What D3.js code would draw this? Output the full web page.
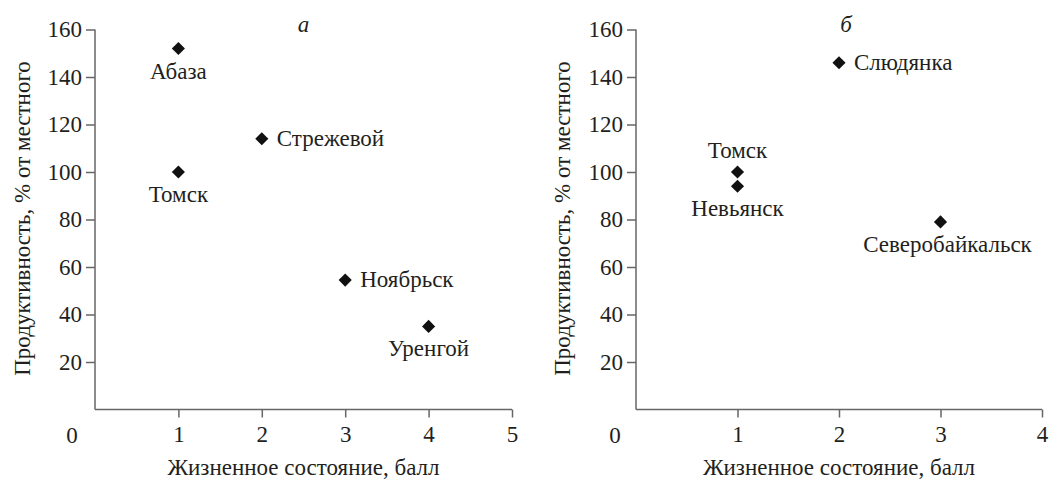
<!DOCTYPE html>
<html><head><meta charset="utf-8">
<script src="https://cdn.jsdelivr.net/npm/d3@7"></script>
</head>
<body style="margin:0;background:#fff">
<svg id="c" width="1049" height="483" style="font-family:'Liberation Serif','Times New Roman',serif"></svg>
<script>
// Panel a
const namesA = ["Абаза","Стрежевой","Томск","Ноябрьск","Уренгой"];
const xA = [1,2,1,3,4];
const yA = [152,114,100,54.5,35];
const posA = ["below","right","below","right","below"];
const xTicksA = [1,2,3,4,5];
// Panel б
const namesB = ["Слюдянка","Томск","Невьянск","Северобайкальск"];
const xB = [2,1,1,3];
const yB = [146,100,94,79];
const posB = ["right","above","below","below"];
const xTicksB = [1,2,3,4];
const yTicks = [20,40,60,80,100,120,140,160];
const titles = ["a","б"];
const xTitle = "Жизненное состояние, балл";
const yTitle = "Продуктивность, % от местного";

const svg = d3.select("#c");
const FS = 23;
const FF = '"Liberation Serif"';
const FFS = "'Liberation Serif','Times New Roman',serif";
const TC = "#231f20";

function styleText(sel){
  return sel.attr("font-family",FF).attr("font-size",FS).attr("fill",TC)
    .style("font-family",FFS).style("font-size",FS+"px");
}
function txt(g){ return styleText(g.append("text")); }

function panel(cfg){
  const g = svg.append("g");
  const x = d3.scaleLinear().domain([0,cfg.xmax]).range([cfg.x0,cfg.x1]);
  const y = d3.scaleLinear().domain([0,160]).range([409.5,29.5]);
  const xa = g.append("g").attr("transform",`translate(0,${y(0)})`)
    .call(d3.axisBottom(x).tickValues(cfg.xticks).tickSize(8).tickPadding(8).tickSizeOuter(0).tickFormat(d3.format("d")));
  const ya = g.append("g").attr("transform",`translate(${x(0)},0)`)
    .call(d3.axisLeft(y).tickValues(yTicks).tickSize(9).tickPadding(4).tickSizeOuter(0));
  [xa,ya].forEach(a=>{
    a.attr("font-family",null).attr("font-size",null).style("font-family",FFS);
    a.select(".domain").attr("stroke","#666").attr("stroke-width",1.5);
    a.selectAll(".tick line").attr("stroke","#666").attr("stroke-width",1.5);
    styleText(a.selectAll(".tick text"));
  });
  ya.select(".domain").attr("d",`M0,${y(160)}V${y(0)}`);
  xa.select(".domain").attr("d",`M${x(0)},0H${x(cfg.xmax)}`);
  // origin label
  txt(g).attr("x",x(0)-cfg.zeroDx).attr("y",y(0)+33).attr("text-anchor","middle").text("0");
  // titles
  txt(g).attr("x",(cfg.x0+cfg.x1)/2+cfg.titleDx).attr("y",32).attr("text-anchor","middle")
    .attr("font-style","italic").style("font-style","italic").text(cfg.title);
  txt(g).attr("x",(cfg.x0+cfg.x1)/2).attr("y",475).attr("text-anchor","middle").text(xTitle);
  txt(g).attr("transform",`translate(${cfg.ylx},${(29.5+409.5)/2 - 1}) rotate(-90)`)
    .attr("text-anchor","middle").text(yTitle);
  // points
  const data = cfg.names.map((n,i)=>({n,x:cfg.xs[i],y:cfg.ys[i],p:cfg.pos[i]}));
  g.selectAll("path.pt").data(data).join("path").attr("class","pt")
    .attr("d",d3.symbol(d3.symbolDiamond2,110))
    .attr("transform",d=>`translate(${x(d.x)},${y(d.y)})`).attr("fill","#111");
  styleText(g.selectAll("text.lbl").data(data).join("text").attr("class","lbl"))
    .attr("text-anchor",d=>d.p==="right"?"start":"middle")
    .attr("x",d=>x(d.x)+(d.p==="right"?15:(d.n==="Северобайкальск"?7:0)))
    .attr("y",d=>y(d.y)+(d.p==="right"?7:d.p==="below"?30:-14))
    .text(d=>d.n);
}
panel({names:namesA,xs:xA,ys:yA,pos:posA,xticks:xTicksA,xmax:5,x0:95,x1:512,title:titles[0],titleDx:0,ylx:30,zeroDx:23});
panel({names:namesB,xs:xB,ys:yB,pos:posB,xticks:xTicksB,xmax:4,x0:636,x1:1042,title:titles[1],titleDx:7,ylx:570,zeroDx:21});
</script></body></html>
